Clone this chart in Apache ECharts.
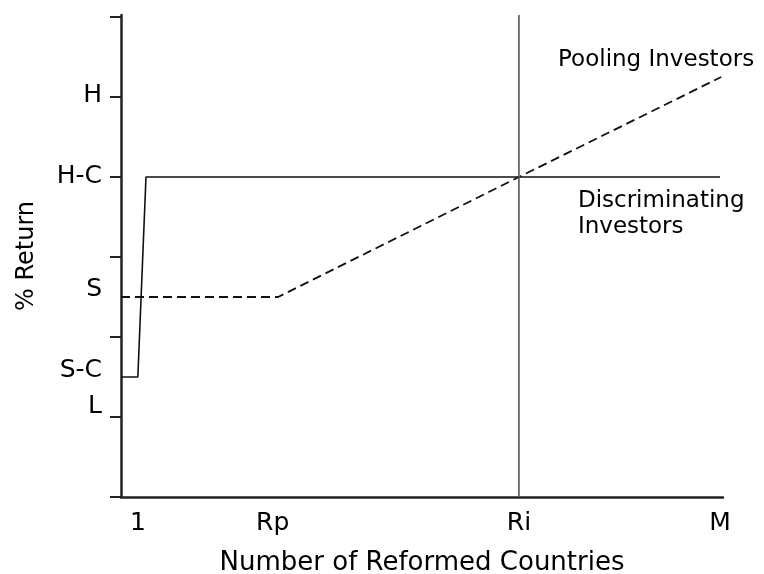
<!DOCTYPE html>
<html>
<head>
<meta charset="utf-8">
<script src="https://cdn.jsdelivr.net/npm/echarts@6/dist/echarts.min.js"></script>
<style>
	html, body { margin: 0; padding: 0; background: #ffffff; }
	#chart { width: 764px; height: 574px; }
</style>
</head>
<body>
<div id="chart"></div>
<script>
//Chart data (x in % of axis length, y in axis units)
let x_tick_values = [2.8, 25.2, 66.1, 99.5];
let x_tick_labels = ["1", "Rp", "Ri", "M"];
let y_tick_values = [0, 2, 4, 6, 8, 10, 12];
let y_label_values = [10.03, 8.02, 5.18, 3.16, 2.26];
let y_label_texts = ["H", "H-C", "S", "S-C", "L"];

let discriminating_points = [[0, 3], [2.8, 3], [4.15, 8], [99.5, 8]];
let pooling_points = [[0, 5], [26.1, 5], [66.1, 8], [99.7, 10.5]];
let ri_line_points = [[66.1, 0], [66.1, 12.05]];

let pooling_label_coord = [72.6, 10.92];
let discriminating_label_coord = [75.9, 7.08];

//Declare local instance variables
let font_family = "DejaVu Sans";
let chart = echarts.init(document.getElementById("chart"), null, { renderer: "canvas" });

let labelFromList = (values, texts) => (value) => {
	for (let i = 0; i < values.length; i++)
		if (Math.abs(values[i] - value) < 1e-6) return texts[i];
	return "";
};

chart.setOption({
	animation: false,
	backgroundColor: "#ffffff",
	grid: { left: 121, right: 41, top: 15, bottom: 77, containLabel: false, outerBoundsMode: "none" },
	xAxis: {
		type: "value",
		min: 0,
		max: 100,
		name: "Number of Reformed Countries",
		nameLocation: "middle",
		nameGap: 53,
		nameTextStyle: { color: "#000", fontSize: 26, fontFamily: font_family },
		axisLine: { show: true, lineStyle: { color: "#222", width: 2.5 } },
		axisTick: { show: false },
		splitLine: { show: false },
		axisLabel: {
			customValues: x_tick_values,
			formatter: labelFromList(x_tick_values, x_tick_labels),
			color: "#000",
			fontSize: 25,
			fontFamily: font_family,
			margin: 14
		}
	},
	yAxis: {
		type: "value",
		min: 0,
		max: 12.05,
		name: "% Return",
		nameLocation: "middle",
		nameGap: 82,
		nameTextStyle: { color: "#000", fontSize: 24, fontFamily: font_family },
		axisLine: { show: true, lineStyle: { color: "#222", width: 2.5 } },
		axisTick: {
			show: true,
			customValues: y_tick_values,
			length: 11,
			lineStyle: { color: "#222", width: 2 }
		},
		splitLine: { show: false },
		axisLabel: {
			customValues: y_label_values,
			formatter: labelFromList(y_label_values, y_label_texts),
			color: "#000",
			fontSize: 25,
			fontFamily: font_family,
			margin: 19
		}
	},
	series: [
		{
			name: "Discriminating Investors",
			type: "line",
			data: discriminating_points,
			symbol: "none",
			lineStyle: { color: "#111", width: 1.6, type: "solid" },
			markPoint: {
				symbol: "circle",
				symbolSize: 0,
				data: [{
					coord: discriminating_label_coord,
					label: {
						show: true,
						formatter: "Discriminating\nInvestors",
						position: "right",
						distance: 0,
						align: "left",
						color: "#000",
						fontSize: 23,
						lineHeight: 26,
						fontFamily: font_family
					}
				}]
			}
		},
		{
			name: "Pooling Investors",
			type: "line",
			data: pooling_points,
			symbol: "none",
			lineStyle: { color: "#111", width: 1.8, type: [9, 5] },
			markPoint: {
				symbol: "circle",
				symbolSize: 0,
				data: [{
					coord: pooling_label_coord,
					label: {
						show: true,
						formatter: "Pooling Investors",
						position: "right",
						distance: 0,
						align: "left",
						color: "#000",
						fontSize: 23,
						fontFamily: font_family
					}
				}]
			}
		},
		{
			name: "Ri",
			type: "line",
			data: ri_line_points,
			symbol: "none",
			lineStyle: { color: "#555", width: 1.6 }
		}
	]
});
</script>
</body>
</html>
